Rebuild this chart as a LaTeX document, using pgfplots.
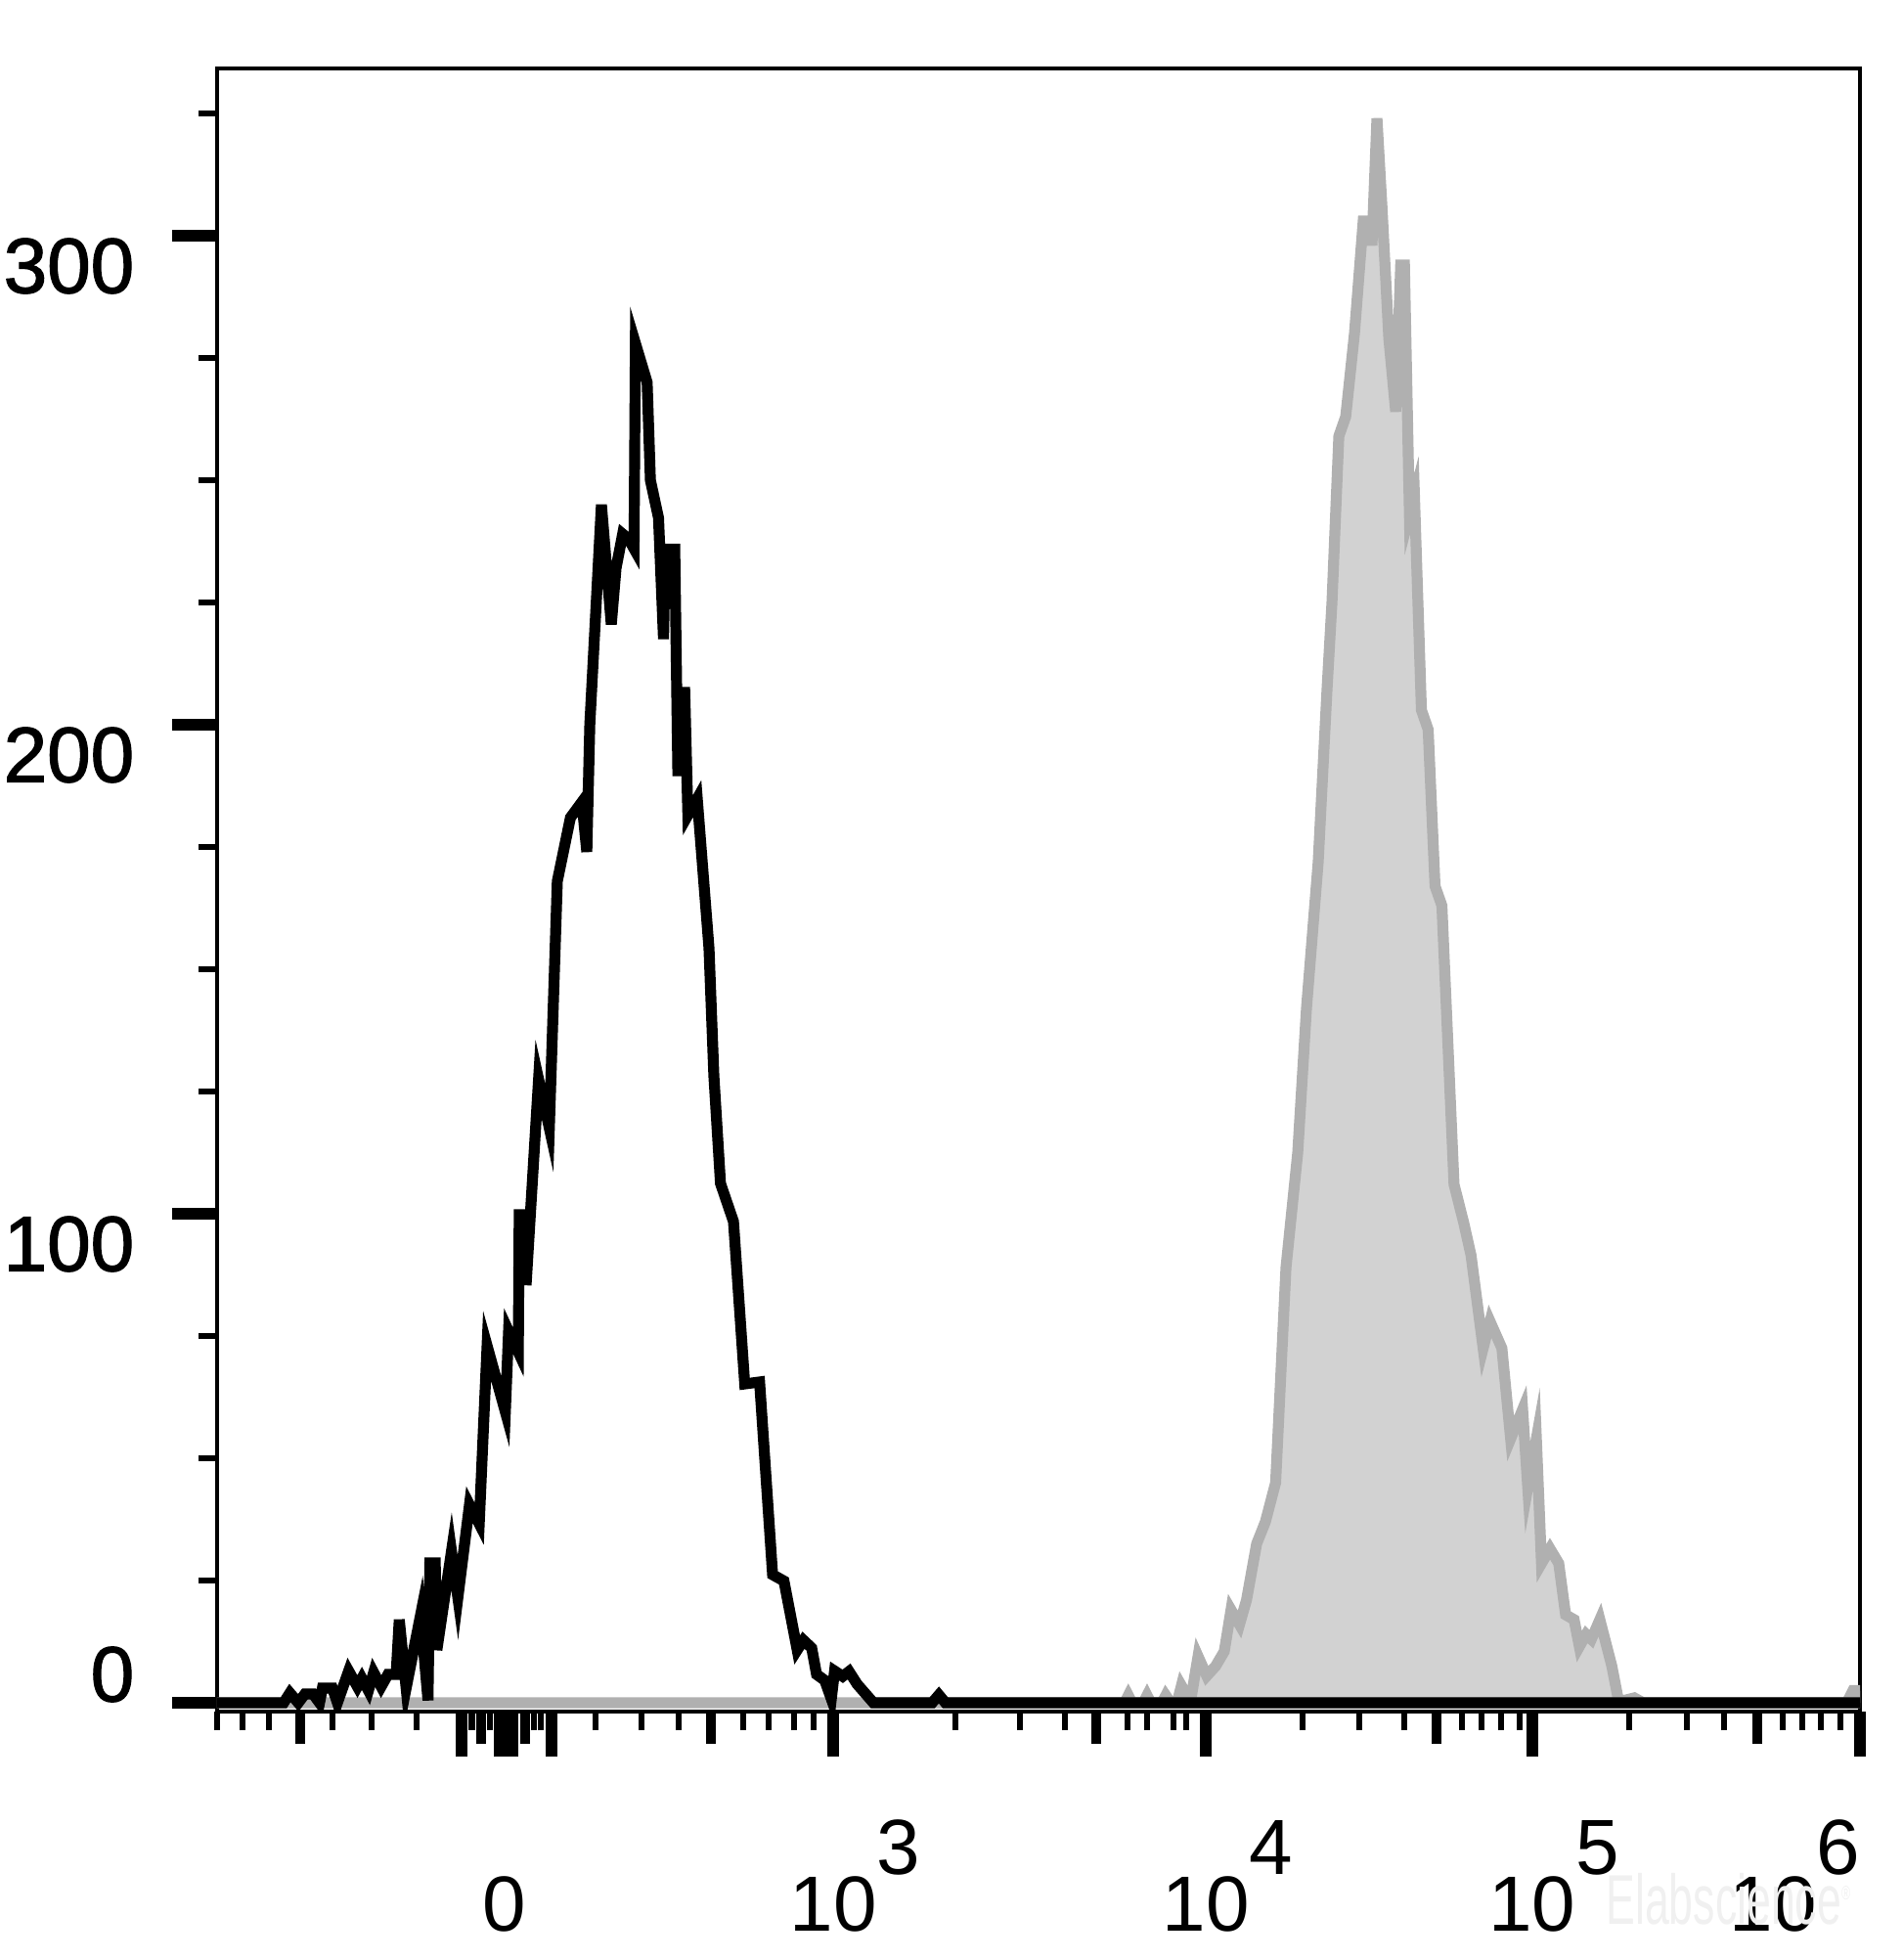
\documentclass[border=0pt]{standalone}
\usepackage{pgfplots}
\pgfplotsset{compat=1.18}
\usepackage{fontspec}
\setmainfont{Liberation Sans}
\newfontfamily\ylabfont[FakeBold=1.5]{Liberation Sans}
\definecolor{fillgray}{RGB}{210,210,210}
\definecolor{linegray}{RGB}{176,176,176}
\newcommand{\pw}[1]{10\rlap{\raisebox{14.3pt}{#1}}}
\newcommand{\pwr}[1]{\llap{10\raisebox{14.3pt}{#1}}}

\pgfplotstableread{
x y
173.7 0
900 0
903 1.5
906 0
915 0
918 1.5
921 0
930 0
933 1.5
937 0
942 0
945.5 3.5
950 1.5
953.6 1.5
958.8 9.5
965.8 5.5
972.9 7.5
979.8 10.5
985.2 19
992 16
997.6 21
1005.7 32.5
1012.7 37
1020.9 45
1029.2 89
1038.6 112.5
1045.6 142
1055 172
1062 207
1066 225
1071.5 259
1077 263
1084 280
1091 303
1096.5 303
1098 298
1102 324
1106 306
1111.5 279
1117 264
1121 294
1124 294
1128 243
1132 247
1137.6 203
1143 199
1148.5 167
1154 163
1163.7 106
1171.6 98
1177.3 91.5
1187 72.5
1192.5 78
1202 72.5
1209 54
1218.6 60
1222.7 44
1229.6 54
1233.7 28.5
1240.5 31.5
1247.5 28.5
1253 18
1259.8 17
1264 11.5
1269.5 14
1273.6 13
1280.4 17
1290 7.5
1295.3 0.5
1300 0.5
1308 1
1315 0
1478 0
1483 2.5
1488.6 2.5
}\graydata

\pgfplotstableread{
x y
173.7 0
227 0
232 2
238.7 0
244 1.8
250.5 1.8
255.7 0
258 3
266 3
270 0
279 6.5
286 3.3
289.6 5
294.8 2.5
299 6.2
305 3.3
310.5 5.8
317 5.8
319.5 17
325 3
336.6 18
342.5 0.5
344 28.6
348.3 28.6
349.6 10.8
361.3 31
366.4 21.5
375.7 40.5
383.5 36.6
389.8 73
404.4 59.5
407 76
414.8 71.7
415.5 99.8
420 99.8
421 85.4
431 127.5
439.6 117.5
446 168
456.5 181
465.7 184.2
469.6 174
472 200
481.3 245
489.2 220.5
493 232
498.3 239
503 238
507.4 236
508.5 278
517.9 270
520.5 250
527 242.3
531 217.5
532.5 235.9
540 235.9
542.5 189.5
545 206.6
548 206.6
550.5 181.5
558 184.9
567.4 154.3
571.3 128.2
576.6 106.2
587 98.4
596 65.2
607.9 65.6
618.3 26.2
627.4 24.9
638 10.8
643 12.8
649.6 11.2
653.5 5.8
660 4.6
665.3 0.8
667.9 6.5
674.4 5.4
679.5 6.4
686 3.8
699 0
746 0
751.4 1.6
756.6 0
1488.6 0
}\blackdata

\begin{document}
\begin{tikzpicture}
\useasboundingbox (-55.5pt,-63.5pt) rectangle (431pt,437.5pt);
\begin{axis}[
  at={(0,0)}, anchor=south west,
  scale only axis, width=420pt, height=420pt,
  xmin=173.7, xmax=1488.6, ymin=-1.8, ymax=334.2,
  axis line style={line width=1pt},
  tick align=outside,
  xtick pos=left, ytick pos=left,
  major tick length=11.5pt, minor tick length=4.75pt,
  major tick style={line width=3pt, black},
  minor tick style={line width=1.6pt, black},
  tick label style={font=\fontsize{20}{24}\selectfont},
  xtick={369,400,403.9,410.1,441,666.8,965,1226.4,1488.6},
  xticklabels={,,0,,,\pw{3},\pw{4},\pw{5},\pwr{6}},
  minor xtick={173.8,194.1,215.2,266.1,297.4,333.4,377.6,392.1,427.3,432.8,476.6,513.4,543.2,594.8,615.2,635.5,651.2,764.7,816.3,852.3,902.4,918.1,939.2,949.4,1042.5,1087.9,1123.9,1170.1,1185.7,1201.4,1216.3,1303.9,1350.1,1379.8,1426.8,1442.5,1457.3,1473},
  extra x ticks={240.3,385,420.3,569,877.4,1149.8,1406.4},
  extra x tick labels={},
  extra x tick style={major tick length=8.25pt, major tick style={line width=2.6pt}},
  xticklabel style={anchor=base, inner sep=0pt, yshift=-44.5pt},
  ytick={100,200,300},
  yticklabels={100,200,300},
  minor ytick={25,50,75,125,150,175,225,250,275,325},
  yticklabel style={anchor=east, inner sep=0pt, xshift=-9.5pt, yshift=-7.75pt, font=\fontsize{20}{24}\ylabfont},
  extra y ticks={0},
  extra y tick labels={0},
  extra y tick style={yticklabel style={yshift=15pt}},
]
\addplot[draw=linegray, fill=fillgray, line width=2.8pt] table[x=x,y=y] {\graydata} \closedcycle;
\addplot[draw=black, line width=2.8pt] table[x=x,y=y] {\blackdata};
\end{axis}
\node[text=black!6, font=\fontsize{18}{20}\selectfont] at (386.5pt,-48pt) {\scalebox{0.62}[1]{Elabscience\textsuperscript{\tiny\textregistered}}};
\end{tikzpicture}
\end{document}
